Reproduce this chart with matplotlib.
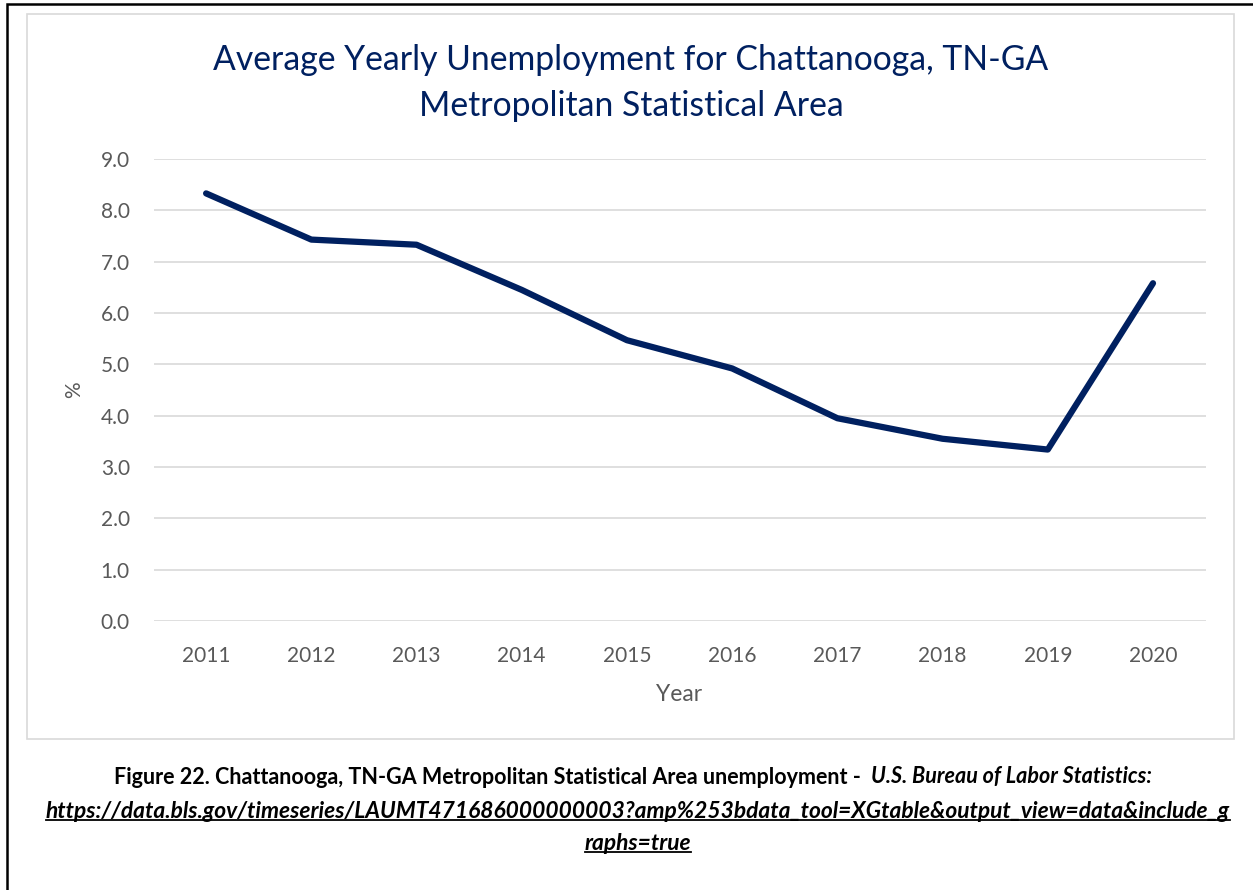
import matplotlib
matplotlib.use('Agg')
import matplotlib.pyplot as plt
from matplotlib.patches import Rectangle
from matplotlib.lines import Line2D

plt.rcParams['font.family'] = ['Lato', 'DejaVu Sans']

years = ['2011', '2012', '2013', '2014', '2015', '2016', '2017', '2018', '2019', '2020']
unemployment = [8.33, 7.43, 7.33, 6.45, 5.47, 4.92, 3.95, 3.55, 3.34, 6.58]
yticks = [0, 1, 2, 3, 4, 5, 6, 7, 8, 9]

navy = '#002060'
grey_txt = '#595959'
grid_col = '#D9D9D9'

W, H = 1253, 890
fig = plt.figure(figsize=(W / 100, H / 100), dpi=100)
fig.patch.set_facecolor('white')

# outer page border (left + top visible)
fig.patches.append(Rectangle((7 / W, -0.2), 1.5, 1.2 - 4 / H, transform=fig.transFigure,
                             fill=False, edgecolor='black', linewidth=1.8))
# chart frame
fig.patches.append(Rectangle((27 / W, 1 - 739 / H), (1234 - 27) / W, (739 - 14) / H,
                             transform=fig.transFigure, fill=False, edgecolor=grid_col, linewidth=1.2))

ax = fig.add_axes([153.5 / W, 1 - 621 / H, (1205.6 - 153.5) / W, (621 - 159) / H])
x = list(range(len(years)))
ax.plot(x, unemployment, color=navy, linewidth=4.5, solid_capstyle='round', solid_joinstyle='round', zorder=3)
ax.set_xlim(-0.5, len(years) - 0.5)
ax.set_ylim(0, 9)
ax.set_xticks(x)
ax.set_xticklabels(years)
ax.set_yticks(yticks)
ax.set_yticklabels(['%.1f' % v for v in yticks])
ax.tick_params(length=0, labelsize=15, labelcolor=grey_txt, pad=18)
ax.tick_params(axis='y', pad=17)
ax.grid(axis='y', color=grid_col, linewidth=1.2)
ax.set_axisbelow(True)
for s in ax.spines.values():
    s.set_visible(False)
ax.set_xlabel('Year', fontsize=16.5, color=grey_txt, labelpad=13)
ax.set_ylabel('%', fontsize=15, color=grey_txt, labelpad=12)

fig.text(631 / W, 1 - 83 / H, 'Average Yearly Unemployment for Chattanooga, TN-GA\nMetropolitan Statistical Area',
         ha='center', va='center', fontsize=24.3, color=navy, linespacing=1.5)

# caption
fig.canvas.draw()
r = fig.canvas.get_renderer()
cap_a = fig.text(0, 1 - 777 / H, 'Figure 22. Chattanooga, TN-GA Metropolitan Statistical Area unemployment -  ',
                 fontsize=15.5, fontweight='bold', va='center', ha='left')
cap_b = fig.text(0, 1 - 777 / H, 'U.S. Bureau of Labor Statistics:', fontsize=15.5, fontweight='bold',
                 style='italic', va='center', ha='left')
wa = cap_a.get_window_extent(r).width
wb = cap_b.get_window_extent(r).width
x0 = (633 - (wa + wb) / 2)
cap_a.set_x(x0 / W)
cap_b.set_x((x0 + wa) / W)

for txt, ypix in [('https://data.bls.gov/timeseries/LAUMT471686000000003?amp%253bdata_tool=XGtable&output_view=data&include_g', 811),
                  ('raphs=true', 843)]:
    t = fig.text(638 / W, 1 - ypix / H, txt, fontsize=16.4, fontweight='bold', style='italic',
                 ha='center', va='center')
    bb = t.get_window_extent(r)
    uy = (bb.y0 + 2) / H
    fig.lines.append(Line2D([bb.x0 / W, bb.x1 / W], [uy, uy], transform=fig.transFigure,
                            color='black', linewidth=1.3))

fig.savefig('out.png', dpi=100)
